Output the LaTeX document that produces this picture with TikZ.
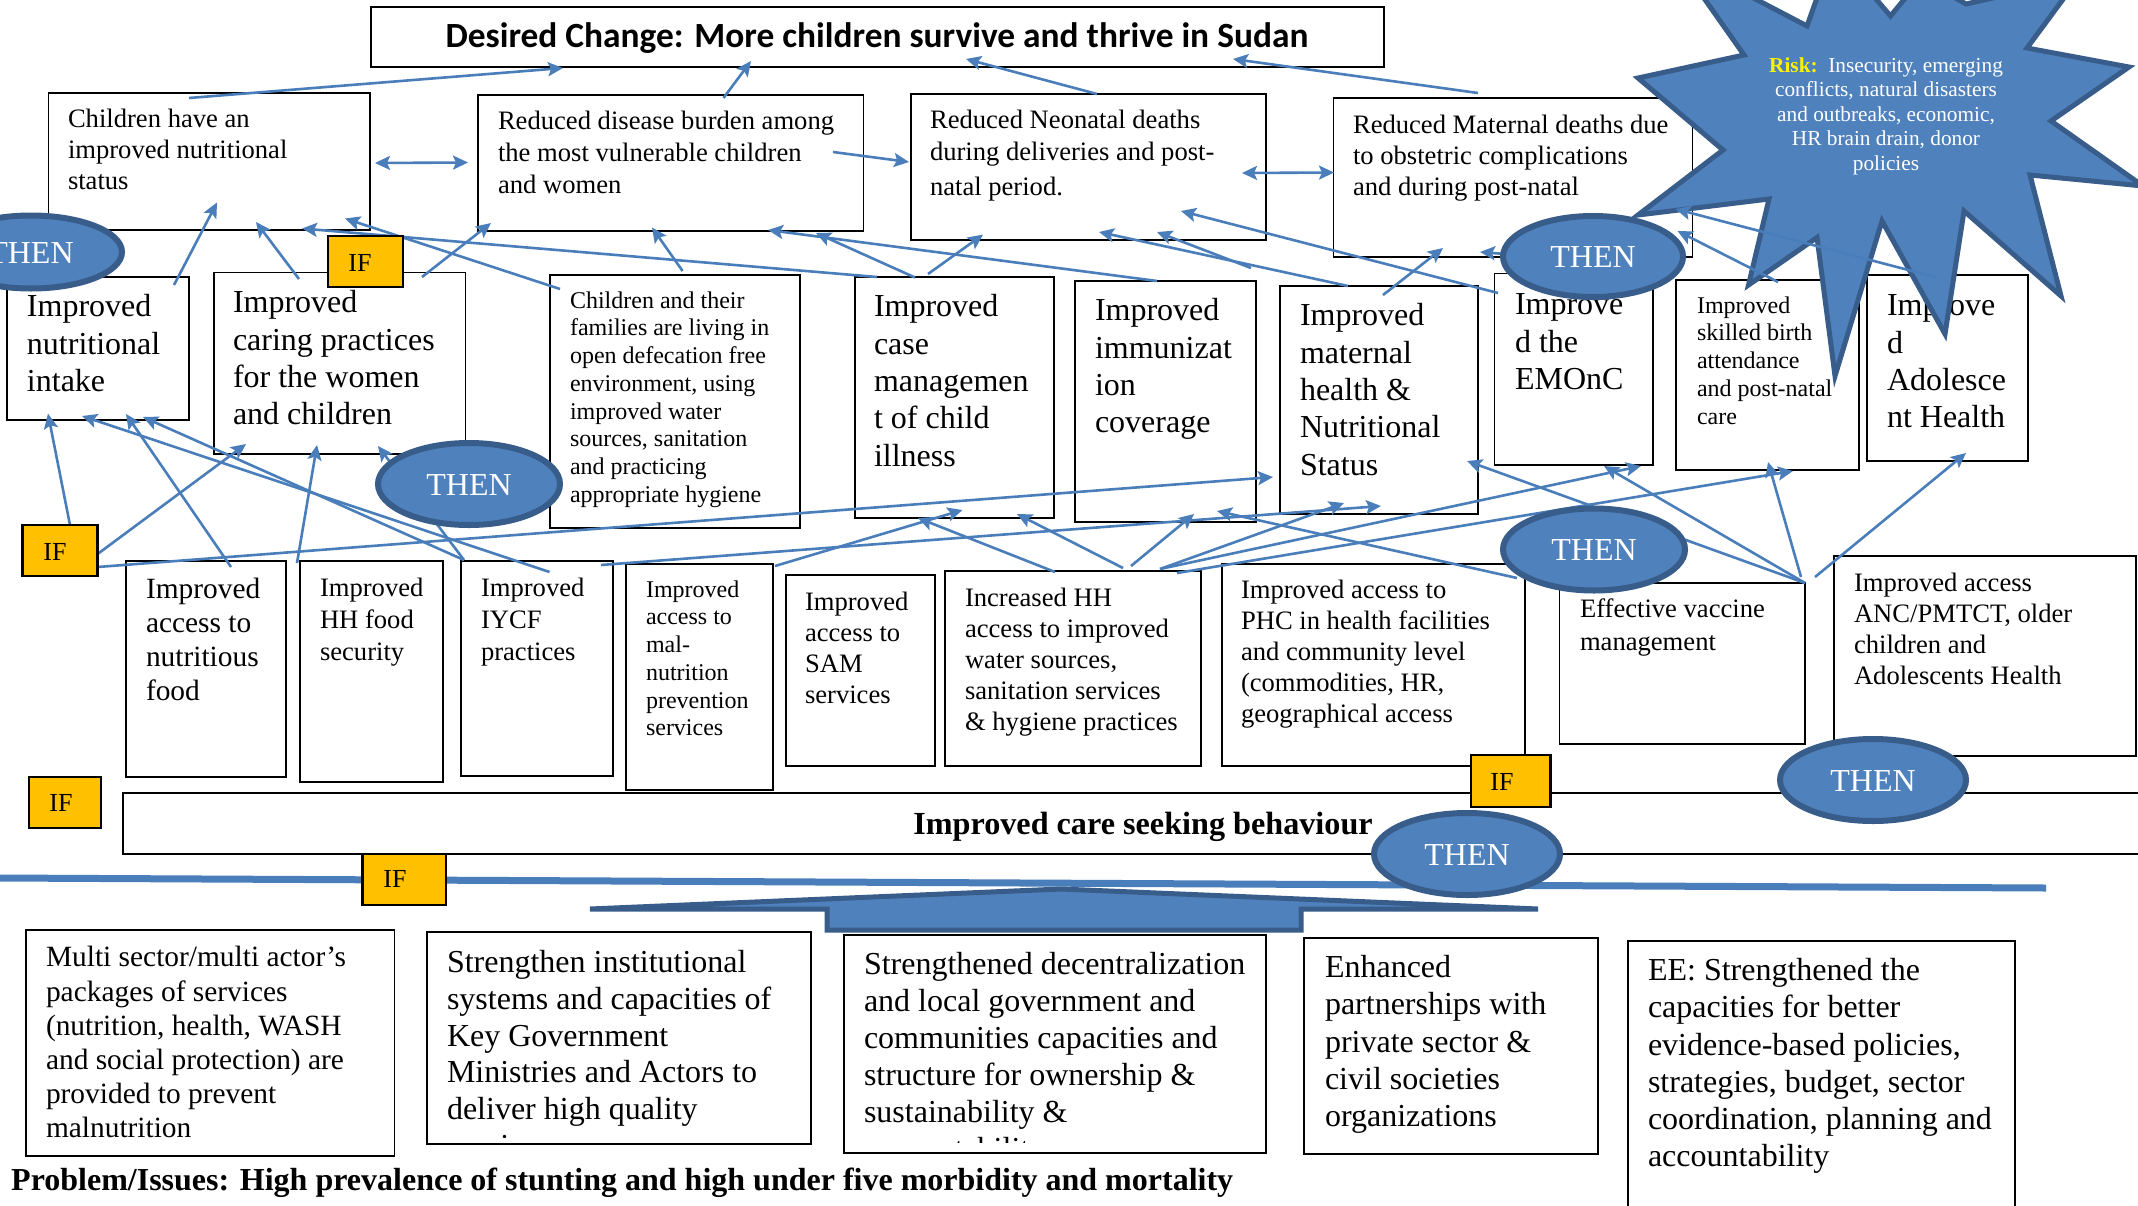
\documentclass[tikz,border=0pt]{standalone}
\usepackage{fontspec}
\setmainfont{Liberation Serif}
\newfontfamily\titlefont{Carlito}
\usetikzlibrary{arrows.meta,shapes.geometric}
\definecolor{conncol}{HTML}{4A7EBB}
\definecolor{thenfill}{HTML}{4F81BD}
\definecolor{thenline}{HTML}{385D8A}
\definecolor{ifyellow}{HTML}{FFC000}
\tikzset{
  boxst/.style={draw=black,fill=white,line width=1.6pt,inner sep=0pt,outer sep=0pt,anchor=north west},
  txt/.style={inner sep=0pt,outer sep=0pt,align=left,anchor=north west},
  conn/.style={draw=conncol,line width=2.6pt},
  tip/.style={-{Stealth[length=15pt,width=14pt,inset=3pt]}},
  dbl/.style={{Stealth[length=15pt,width=14pt,inset=3pt]}-{Stealth[length=15pt,width=14pt,inset=3pt]}},
  ifbox/.style={draw=black,fill=ifyellow,line width=2.4pt,inner sep=0pt,outer sep=0pt,anchor=north west},
  iftext/.style={inner sep=0pt,font=\fontsize{26}{30}\selectfont},
  thenell/.style={ellipse,draw=thenline,fill=thenfill,line width=6pt,inner sep=0pt,text=white,font=\fontsize{32}{36}\selectfont}
}
\newcommand\bx[5]{\node[boxst,minimum width={(#4-#2)*1pt},minimum height={(#5-#3)*1pt}] (#1) at (#2,#3) {};}
\newcommand\tb[6]{\node[txt,font=\fontsize{#4}{#5}\selectfont] (#1) at (#2,{#3+1+0.3*#4-0.7*#5}) {\strut #6};}
\newcommand\arr[4][tip]{\coordinate (#2s) at (#3); \coordinate (#2e) at (#4); \draw[conn,#1] (#2s) -- (#2e);}
\newcommand\ifb[7]{\node[ifbox,minimum width={(#4-#2)*1pt},minimum height={(#5-#3)*1pt}] (#1) at (#2,#3) {}; \node[iftext] (#1t) at (#6,#7) {IF};}
\newcommand\thn[5]{\node[thenell,minimum width=#4pt,minimum height=#5pt,text depth=0pt] (#1) at (#2,#3) {\raisebox{-1.5pt}{THEN}};}
\begin{document}
\begin{tikzpicture}[x=1pt,y=-1pt]
\useasboundingbox (0,0) rectangle (2138,1205);
\fill[white] (0,0) rectangle (2138,1205);
% top
\bx{title}{371}{7}{1384}{67}
\node[inner sep=0pt,font=\titlefont\bfseries\fontsize{35.4}{40}\selectfont] (titlet) at (877,38) {Desired Change: More children survive and thrive in Sudan};
\bx{o1}{48.5}{93}{370}{230}
\tb{o1t}{68}{119}{26.6}{31}{Children have an\\improved nutritional\\status}
\bx{o2}{478}{95}{863.5}{231}
\tb{o2t}{498}{121}{26.6}{32}{Reduced disease burden among\\the most vulnerable children\\and women}
\bx{o3}{911}{94}{1266}{240}
\tb{o3t}{930}{120}{26.6}{32}{Reduced Neonatal deaths\\during deliveries and post-\\[3pt]natal period.}
\bx{o4}{1333.5}{98}{1692.6}{257}
\tb{o4t}{1353}{125}{26.6}{31}{Reduced Maternal deaths due\\to obstetric complications\\and during post-natal}
% row 2
\bx{r1}{7}{277}{189}{420}
\tb{r1t}{27}{306}{32}{37.4}{Improved\\nutritional\\intake}
\bx{r2}{214}{272.5}{465.5}{454}
\tb{r2t}{233}{302}{32}{37.4}{Improved\\caring practices\\for the women\\and children}
\bx{r3}{550}{275}{800}{528}
\tb{r3t}{570}{300}{24}{27.7}{Children and their\\families are living in\\open defecation free\\environment, using\\improved water\\sources, sanitation\\and practicing\\appropriate hygiene}
\bx{r4}{855}{277}{1054}{518}
\tb{r4t}{874}{306}{32}{37.4}{Improved\\case\\managemen\\t of child\\illness}
\bx{r5}{1075}{281}{1256}{522}
\tb{r5t}{1095}{310}{32}{37.4}{Improved\\immunizat\\ion\\coverage}
\bx{r6}{1280}{286}{1478}{514}
\tb{r6t}{1300}{315}{32}{37.4}{Improved\\maternal\\health \&\\Nutritional\\Status}
\bx{r7}{1494.6}{273.6}{1653}{465}
\tb{r7t}{1515}{304}{32}{37.4}{Improve\\d the\\EMOnC}
\bx{r8}{1676}{280}{1859}{470}
\tb{r8t}{1697}{305}{24}{27.7}{Improved\\skilled birth\\attendance\\and post-natal\\care}
\bx{r9}{1867}{275}{2028}{461}
\tb{r9t}{1887}{305}{32}{37.4}{Improve\\d\\Adolesce\\nt Health}
% row 3
\bx{s1}{126}{561}{286}{777}
\tb{s1t}{146}{589}{29.4}{34}{Improved\\access to\\nutritious\\food}
\bx{s2}{300}{561}{443}{782}
\tb{s2t}{320}{588}{26.6}{32}{Improved\\HH food\\security}
\bx{s3}{461}{561}{613}{776}
\tb{s3t}{481}{588}{26.6}{32}{Improved\\IYCF\\practices}
\bx{s4}{626}{564}{773}{790}
\tb{s4t}{646}{589}{24}{27.7}{Improved\\access to\\mal-\\nutrition\\prevention\\services}
\bx{s5}{786}{575}{935}{766}
\tb{s5t}{805}{602}{26.6}{31}{Improved\\access to\\SAM\\services}
\bx{s6}{945}{571}{1201}{766}
\tb{s6t}{965}{598}{26.6}{31}{Increased HH\\access to improved\\water sources,\\sanitation services\\\& hygiene practices}
\bx{s7}{1222}{564}{1525}{766}
\tb{s7t}{1241}{590}{26.6}{31}{Improved access to\\PHC in health facilities\\and community level\\(commodities, HR,\\geographical access}
\bx{s8}{1559.5}{583}{1805}{744}
\tb{s8t}{1580}{609}{26.6}{33}{Effective vaccine\\management}
\bx{s9}{1834}{556}{2136}{756}
\tb{s9t}{1854}{583}{26.6}{31}{Improved access\\ANC/PMTCT, older\\children and\\Adolescents Health}
% bar
\bx{bar}{123}{793}{2160}{854}
\node[inner sep=0pt,font=\bfseries\fontsize{32.2}{36}\selectfont] (bart) at (1143,827) {Improved care seeking behaviour};
% bottom
\bx{b1}{26}{930}{394.5}{1156}
\tb{b1t}{46}{957}{29.4}{34.2}{Multi sector/multi actor’s\\packages of services\\(nutrition, health, WASH\\and social protection) are\\provided to prevent\\malnutrition}
\bx{b2}{427}{932}{811}{1144}
\tb{b2t}{447}{962}{32}{36.7}{Strengthen institutional\\systems and capacities of\\Key Government\\Ministries and Actors to\\deliver high quality}
\begin{scope}
\clip (447,1120) rectangle (800,1137);
\tb{b2c}{447}{1145.5}{32}{36.7}{services}
\end{scope}
\bx{b3}{844}{935}{1266}{1153}
\tb{b3t}{864}{964}{32}{37}{Strengthened decentralization\\and local government and\\communities capacities and\\structure for ownership \&\\sustainability \&}
\begin{scope}
\clip (864,1125) rectangle (1250,1142);
\tb{b3c}{864}{1149}{32}{37}{accountability}
\end{scope}
\bx{b4}{1304}{938}{1598}{1154}
\tb{b4t}{1325}{967}{32}{37.3}{Enhanced\\partnerships with\\private sector \&\\civil societies\\organizations}
\bx{b5}{1628}{941}{2015}{1230}
\tb{b5t}{1648}{970}{32}{37.2}{EE: Strengthened the\\capacities for better\\evidence-based policies,\\strategies, budget, sector\\coordination, planning and\\accountability}
\node[inner sep=0pt,anchor=west,font=\bfseries\fontsize{32}{36}\selectfont] (prob) at (11,1183) {Problem/Issues: High prevalence of stunting and high under five morbidity and mortality};
% star
\draw[fill=thenfill,draw=thenline,line width=5pt,line join=miter]
 (1638,78)--(1744,55)--(1675,-43)--(1807,26)--(1834,-50)--(1890.5,16)--(1921,-21)--(1966,4)--(2078,-21)--(2027,48)--(2129,67)--(2051,121)--(2143,186)--(2030,175)--(2061,296)--(1964,211)--(1945,334)--(1882,221)--(1835,376)--(1817,237.5)--(1748.5,285)--(1769,199)--(1638,215)--(1723,150)--cycle;
% upper arrows
\arr{a1}{189,98}{563,68}
\arr{a2}{723.5,98}{751,61}
\arr{a3}{1097,94}{966,59}
\arr{a4}{1478,93}{1233,59}
\arr[dbl]{a5}{375,163}{468,162.5}
\arr{a6}{833,152}{909,162}
\arr[dbl]{a7}{1242,173}{1334,172.5}
\arr{a8}{174,285}{217,202.5}
\arr{a9}{299,279}{256,222}
\arr{a10}{422,277}{491,223}
\arr{a11}{560,289}{345,218.5}
\arr{a12}{877,277}{302,228.5}
\arr{a13}{682.6,271}{652,227.5}
\arr{a14}{915,277.5}{816,233}
\arr{a15}{928,274}{983,234.6}
\arr{a16}{1157,281}{768,230}
\arr{a17}{1348,286}{1099,232}
\arr{a18}{1251,268}{1157,232}
\arr{a19}{1498,293}{1181,211}
\arr{a20}{1383,295}{1443,248}
\arr{a21}{1505,254}{1480,252}
\arr{a22}{1935,277}{1675.5,209}
\arr{a23}{1778,282}{1677.5,231}
% lower arrows
\arr{c1}{70,525}{48,413.6}
\arr{c2}{97.6,554}{246,444}
\arr{c3}{231,567}{126,414}
\arr{c4}{297,563}{317,445}
\arr{c5}{464,560}{143,417}
\arr{c6}{549.5,572}{82,416}
\arr{c7}{464,560}{378,446}
\arr{c8}{97.6,567}{1273,477}
\arr{c9}{601,565}{1381,506}
\arr{c10}{775,566}{962.5,510}
\arr{c11}{1055,572}{918,518}
\arr{c12}{1123,568}{1017,514}
\arr{c13}{1131,566}{1194,514}
\arr{c14}{1160,569}{1344,503}
\arr{c15}{1160,569}{1641,466}
\arr{c16}{1177,573}{1793,471}
\arr{c17}{1517,578}{1217,511}
\arr{c18}{1805,583}{1467,461}
\arr{c19}{1805,583}{1604,466}
\arr{c20}{1801,577}{1768,462}
\arr{c21}{1815,577}{1966,453}
% blue line
\coordinate (lineA) at (0,878);
\coordinate (lineB) at (2046,888);
\draw[draw=conncol,line width=7pt] (lineA)--(lineB);
% broad up arrow
\draw[fill=thenfill,draw=thenline,line width=5pt,line join=miter]
 (590,909)--(1061,889)--(1538,909)--(1301,909)--(1301,930)--(827,930)--(827,909)--cycle;
% star text
\node[inner sep=0pt,align=center,text=white,font=\fontsize{21.3}{24.5}\selectfont] (risk) at (1886,116) {{\color{yellow}\bfseries Risk:}\ \ Insecurity, emerging\\conflicts, natural disasters\\and outbreaks, economic,\\HR brain drain, donor\\policies};
% IF
\ifb{if1}{328}{236}{403}{287}{360}{263}
\ifb{if2}{22.5}{525}{97.6}{576}{55}{552}
\ifb{if3}{29}{777}{101}{828}{61}{803}
\ifb{if4}{362.5}{854}{446}{905}{395}{879}
\ifb{if5}{1471}{755}{1550.6}{807}{1502}{782}
% THEN
\thn{t1}{31}{252}{182}{73}
\thn{t2}{469}{484}{182}{82}
\thn{t3}{1593}{256.5}{180}{81}
\thn{t4}{1594}{549.5}{182}{82}
\thn{t5}{1873}{780}{186}{82}
\thn{t6}{1467}{854}{186}{82}
\end{tikzpicture}
\end{document}
